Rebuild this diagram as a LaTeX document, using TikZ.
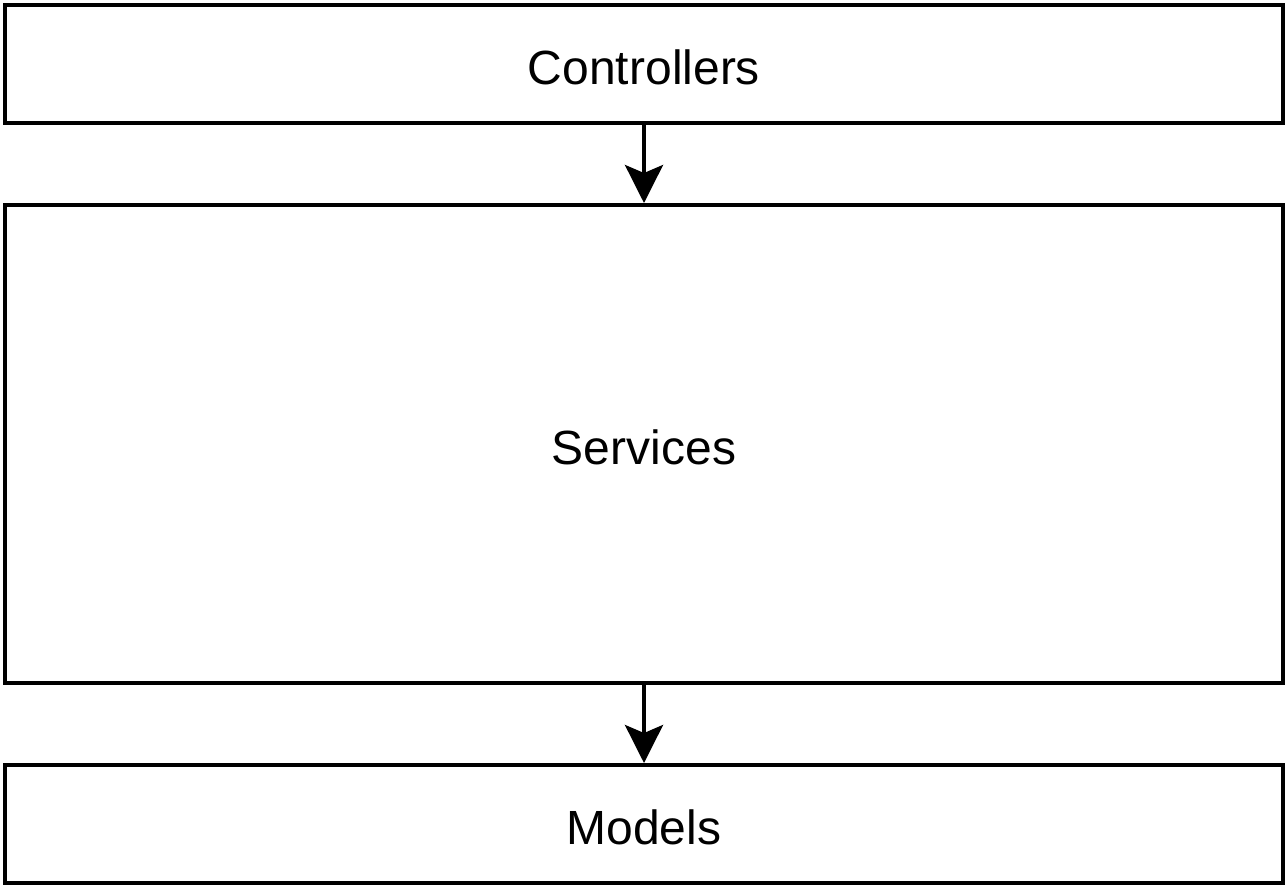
\documentclass[tikz,border=0pt]{standalone}
\usepackage{fontspec}
\setmainfont{Liberation Sans}
\usetikzlibrary{arrows.meta}
\begin{document}
\begin{tikzpicture}[x=1pt,y=-1pt,
  layer/.style={draw=black, line width=4pt, fill=white, inner sep=0pt,
    minimum width=1278pt, text height=40pt, text depth=0pt,
    font=\fontsize{48}{57}\selectfont},
  flow/.style={line width=4pt,
    -{Stealth[length=38pt,width=38pt,inset=8pt]}}]
  \useasboundingbox (0,0) rectangle (1288,887);
  \node[layer, minimum height=118pt] (ctrl) at (644,64) {Controllers};
  \node[layer, minimum height=478pt] (svc) at (644,444) {Services};
  \node[layer, minimum height=118pt] (mdl) at (644,824) {Models};
  \draw[flow] (ctrl.south) -- (svc.north);
  \draw[flow] (svc.south) -- (mdl.north);
\end{tikzpicture}
\end{document}
